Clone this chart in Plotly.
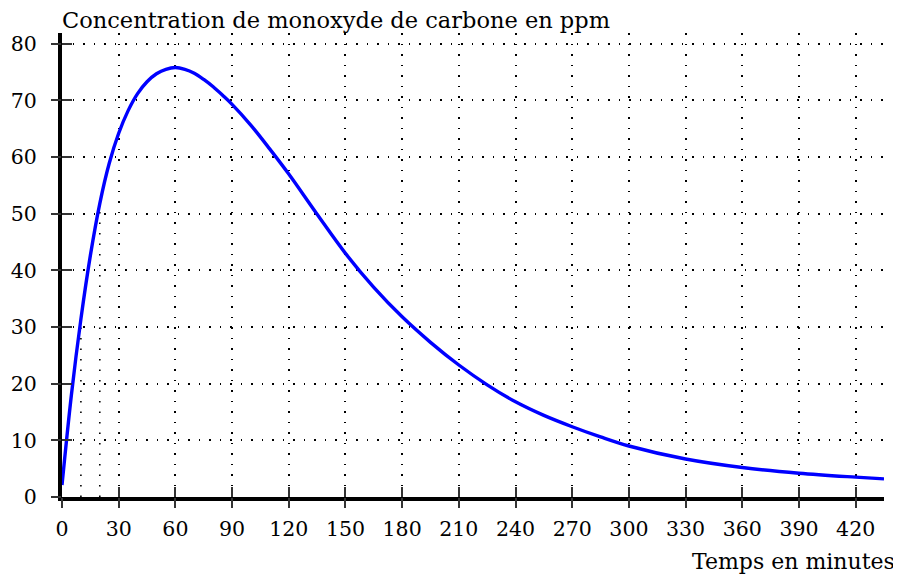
import plotly.graph_objects as go

# Data
time_min = [0, 5, 10, 15, 20, 25, 30, 35, 40, 45, 50, 55, 60, 65, 70, 75, 80, 85, 90,
            100, 110, 120, 135, 150, 165, 180, 195, 210, 225, 240, 255, 270, 285, 300,
            330, 360, 390, 420, 435]
co_ppm = [2.1, 18.1, 31.4, 42.6, 51.8, 58.9, 64.2, 68.2, 71.2, 73.3, 74.7, 75.5, 75.8,
          75.5, 74.8, 73.7, 72.4, 70.9, 69.3, 65.6, 61.4, 57.0, 49.9, 43.0, 37.0, 31.8,
          27.3, 23.3, 19.8, 16.8, 14.4, 12.4, 10.6, 9.0, 6.7, 5.2, 4.2, 3.5, 3.2]
x_ticks = list(range(0, 421, 30))
y_ticks = list(range(0, 81, 10))
drop_times = [10, 20]

title_text = "Concentration de monoxyde de carbone en ppm"
xlabel_text = "Temps en minutes"

FONT = "DejaVu Serif"
X_RANGE = [0, 435]
Y_RANGE = [0, 81.9]
DOT = "1.6px,8.9px"

fig = go.Figure()

# dotted drop lines from the curve to the time axis
for t in drop_times:
    v = co_ppm[time_min.index(t)]
    fig.add_trace(go.Scatter(x=[t, t], y=[0, v], mode="lines",
                             line=dict(color="black", width=1.6, dash=DOT),
                             hoverinfo="skip", showlegend=False))

fig.add_trace(go.Scatter(x=time_min, y=co_ppm, mode="lines",
                         line=dict(color="#0000FF", width=3.4, shape="spline", smoothing=1.0),
                         showlegend=False))

# helper trace to activate overlay axes (for crossing ticks)
fig.add_trace(go.Scatter(x=[time_min[0]], y=[co_ppm[0]], xaxis="x2", yaxis="y2",
                         mode="none", hoverinfo="skip", showlegend=False))

axis_common = dict(showline=True, linecolor="black", linewidth=4, zeroline=False,
                   tickcolor="#333333", tickwidth=1.5, ticklen=10, automargin=False,
                   tickfont=dict(family=FONT, size=20.5, color="black"),
                   gridcolor="black", gridwidth=1.6, griddash=DOT)
overlay_common = dict(ticks="outside", showticklabels=False, showgrid=False,
                      showline=False, zeroline=False, tickcolor="#333333",
                      tickwidth=1.5, ticklen=10, automargin=False)

fig.update_layout(
    width=893, height=572,
    margin=dict(l=54, r=17, t=25, b=83),
    paper_bgcolor="white", plot_bgcolor="white",
    xaxis=dict(range=X_RANGE, tickvals=x_ticks, ticks="inside", showgrid=True,
               ticklabelstandoff=10, **axis_common),
    yaxis=dict(range=Y_RANGE, tickvals=y_ticks, ticks="inside", showgrid=True,
               ticklabelstandoff=17, **axis_common),
    xaxis2=dict(range=X_RANGE, tickvals=x_ticks, overlaying="x", anchor="y",
                **overlay_common),
    yaxis2=dict(range=Y_RANGE, tickvals=y_ticks, overlaying="y", anchor="x",
                side="left", **overlay_common),
    annotations=[
        dict(text=title_text, xref="paper", yref="paper", x=0, y=1, yshift=-2, xshift=-2,
             xanchor="left", yanchor="bottom", showarrow=False,
             font=dict(family=FONT, size=22.5, color="black")),
        dict(text=xlabel_text, xref="paper", yref="paper", x=1, y=0, xshift=13, yshift=-50,
             xanchor="right", yanchor="top", showarrow=False,
             font=dict(family=FONT, size=22, color="black")),
    ],
)

fig.write_html("out.html")
